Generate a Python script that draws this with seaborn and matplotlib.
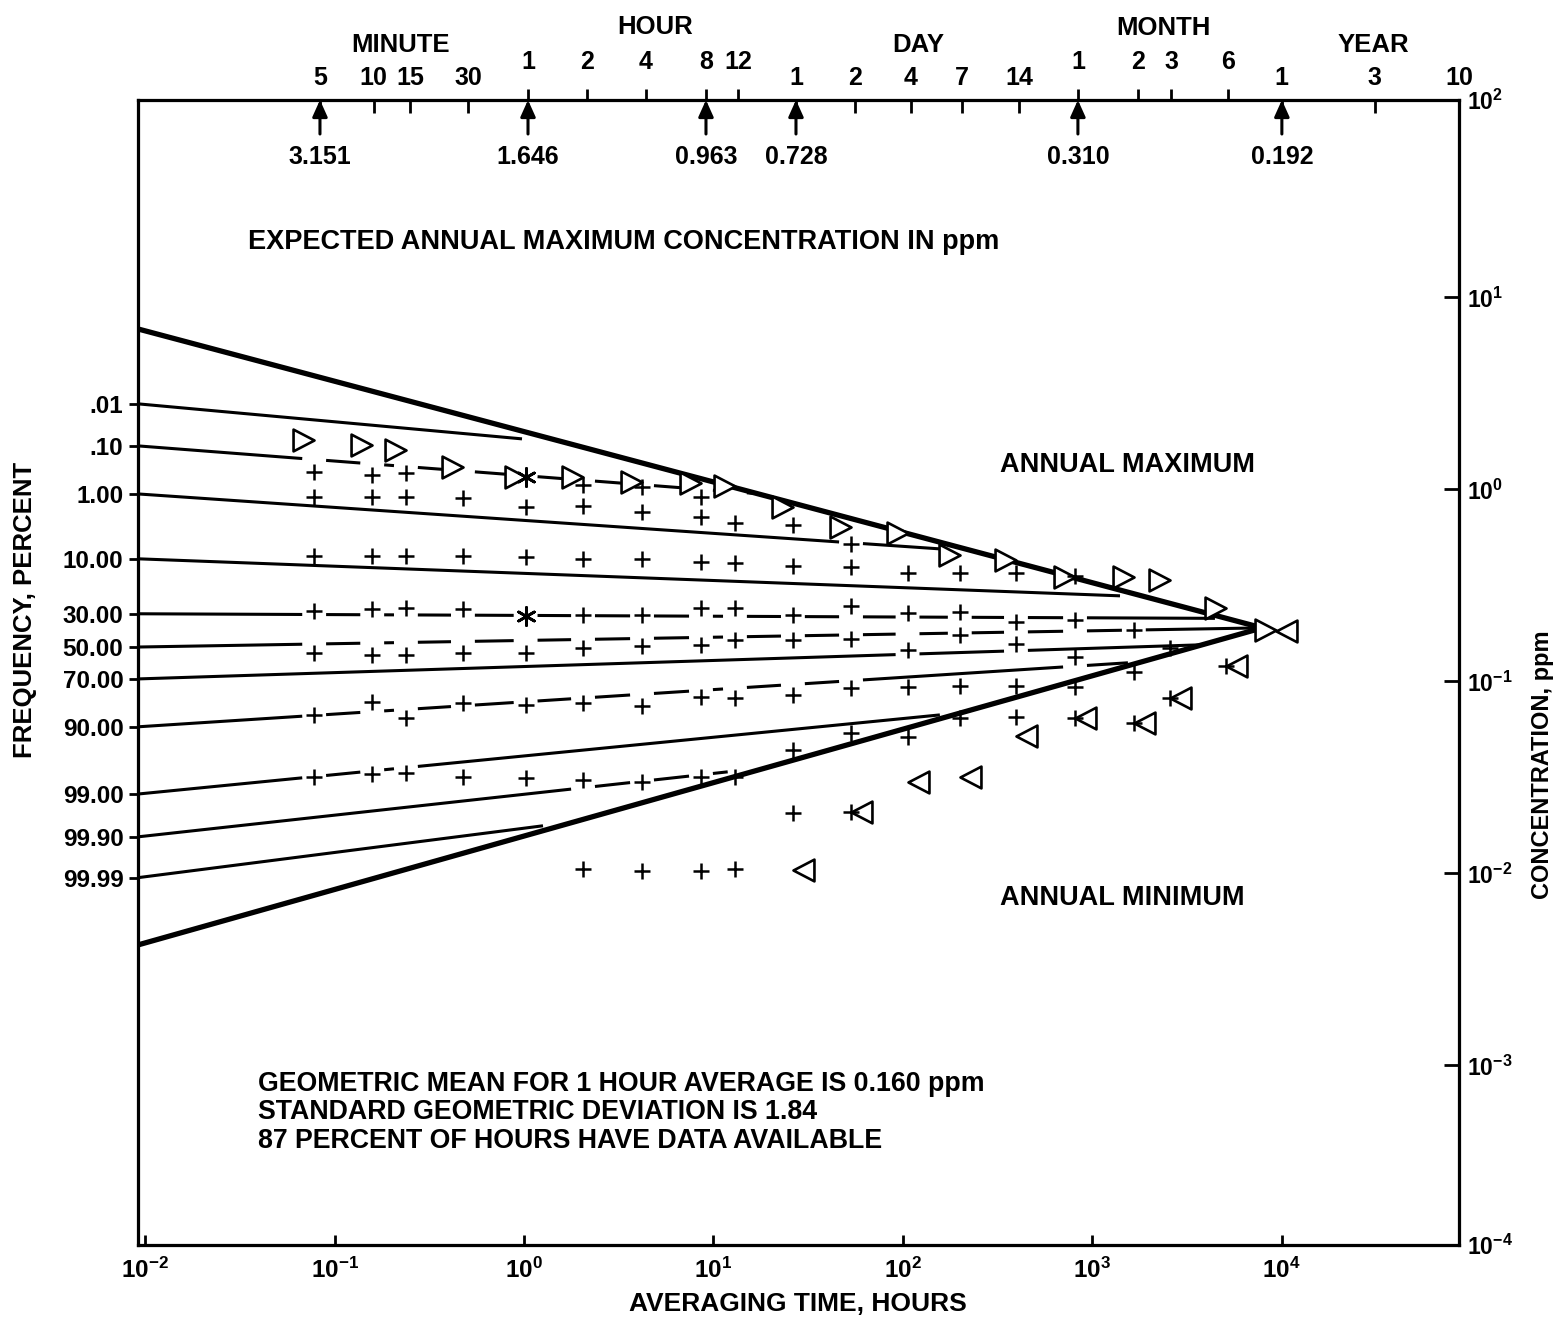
import numpy as np
import pandas as pd
import matplotlib
matplotlib.use("Agg")
import matplotlib.pyplot as plt
from matplotlib.path import Path
from matplotlib.ticker import FixedLocator, FixedFormatter, NullLocator
import seaborn as sns

nan = np.nan

# ---------------------------------------------------------------- data ----
# averaging-time columns (hours) of the observed points
AVG_HOURS = [0.078, 0.158, 0.238, 0.476, 1.02, 2.05, 4.2, 8.6, 13.0, 26.3,
             53.3, 106, 200, 396, 812, 1660, 2580, 5090, 9340]

# observed concentrations (ppm) per averaging time, one list per rank row
OBS_ROW_A = [1.238, 1.190, 1.223, nan, nan, 1.055, 1.027, 0.917] + [nan] * 11
OBS_ROW_B = [0.911, 0.911, 0.911, 0.900, 0.814, 0.823, 0.766, 0.722, 0.667,
             0.653, 0.520] + [nan] * 8
OBS_ROW_C = [0.452, 0.452, 0.452, 0.452, 0.447, 0.435, 0.433, 0.418, 0.416,
             0.401, 0.396, 0.366, 0.366, 0.367, 0.352] + [nan] * 4
OBS_ROW_D = [0.233, 0.238, 0.242, 0.238, nan, 0.222, 0.222, 0.241, 0.241,
             0.222, 0.247, 0.227, 0.231, 0.204, 0.208, 0.185, nan, nan, nan]
OBS_ROW_E = [0.140, 0.137, 0.137, 0.141, 0.141, 0.149, 0.152, 0.155, 0.164,
             0.164, 0.166, 0.146, 0.175, 0.156, 0.134, nan, 0.149, nan, nan]
OBS_ROW_F = [0.0669, 0.0785, 0.0643, 0.0770, 0.0754, 0.0770, 0.0745, 0.0827,
             0.0823, 0.0851, 0.0922, 0.0933, 0.0947, 0.0942, 0.0940, 0.1125,
             nan, nan, nan]
OBS_ROW_G = [0.0319, 0.0329, 0.0332, 0.0319, 0.0313, 0.0307, 0.0301, 0.0319,
             0.0319, 0.0440, 0.0537, 0.0516, 0.0643, 0.0649, 0.0643, 0.0608,
             0.0818, 0.1204, nan]
OBS_ROW_H = [nan] * 5 + [0.0105, 0.0103, 0.0103, 0.0105, 0.0207, 0.0210] + [nan] * 8

# coincident points (printed as an asterisk)
COINCIDENT_HOURS = [1.02, 1.02]
COINCIDENT_PPM = [1.166, 0.218]

# observed annual maxima and minima per averaging time (ppm)
ANNUAL_MAX_PPM = [1.810, 1.705, 1.606, 1.310, 1.162, 1.162, 1.094, 1.081, 1.043,
                  0.811, 0.638, 0.594, 0.456, 0.429, 0.350, 0.350, 0.338, 0.241,
                  0.185]
ANNUAL_MIN_PPM = [nan] * 9 + [0.0104, 0.0209, 0.0300, 0.0318, 0.0520, 0.0645,
                              0.0608, 0.0820, 0.1204, 0.1832]

# frequency lines: value at the left edge and where each line stops
FREQ_LABELS = [".01", ".10", "1.00", "10.00", "30.00", "50.00", "70.00",
               "90.00", "99.00", "99.90", "99.99"]
FREQ_START_PPM = [2.79, 1.685, 0.947, 0.435, 0.225, 0.151, 0.103, 0.058,
                  0.0259, 0.0155, 0.0095]
FREQ_END_HOURS = [0.976, 17.0, 157, 1403, 4450, 7900, 3707, 1545, 157, 11.9, 1.26]
FREQ_END_PPM = [1.833, 0.951, 0.49, 0.279, 0.213, 0.19, 0.155, 0.125, 0.0669,
                0.0338, 0.0177]

# expected annual maximum / minimum envelopes, meeting at one year
ENVELOPE_START_PPM = [6.85, 0.00424]
CONVERGE_HOURS = 7900
CONVERGE_PPM = 0.19

# top time scale
TOP_TICK_HOURS = [0.0837, 0.161, 0.25, 0.506, 1.05, 2.15, 4.41, 9.14, 13.5,
                  27.3, 55.9, 110, 205, 411, 841, 1746, 2609, 5213, 10040,
                  31100, 86500]
TOP_TICK_LABELS = ["5", "10", "15", "30", "1", "2", "4", "8", "12", "1", "2",
                   "4", "7", "14", "1", "2", "3", "6", "1", "3", "10"]
TOP_TICK_GROUP = (["MINUTE"] * 4 + ["HOUR"] * 5 + ["DAY"] * 5 + ["MONTH"] * 4
                  + ["YEAR"] * 3)

# expected annual maximum concentration for selected averaging times
ARROW_HOURS = [0.0837, 1.05, 9.14, 27.3, 841, 10040]
EXPECTED_MAX_PPM = [3.151, 1.646, 0.963, 0.728, 0.310, 0.192]

X_RANGE = (0.00916, 86500)
Y_RANGE = (1.16e-4, 106.7)
BOTTOM_TICKS = [1e-2, 1e-1, 1e0, 1e1, 1e2, 1e3, 1e4]
RIGHT_TICKS = [Y_RANGE[0], 1e-3, 1e-2, 1e-1, 1e0, 1e1, Y_RANGE[1]]
RIGHT_LABELS = ["$10^{-4}$", "$10^{-3}$", "$10^{-2}$", "$10^{-1}$",
                "$10^{0}$", "$10^{1}$", "$10^{2}$"]

# line breaks around the averaging-time columns (index of line -> columns)
LINE_GAPS = {1: range(0, 9), 2: [10], 4: range(0, 15), 5: range(0, 16),
             6: [11, 13], 7: list(range(0, 11)) + [14], 8: [0, 1, 2],
             9: [5, 6, 7]}
GAP = 0.063  # half width of a break, in decades

# ---------------------------------------------------------------- style ---
sns.set_theme(style="ticks")
plt.rcParams.update({
    "font.family": ["Liberation Sans", "DejaVu Sans"],
    "font.weight": "bold",
    "axes.edgecolor": "black",
    "axes.linewidth": 2.2,
    "mathtext.fontset": "custom",
    "mathtext.rm": "Liberation Sans:bold",
    "mathtext.bf": "Liberation Sans:bold",
    "mathtext.it": "Liberation Sans:bold",
    "mathtext.default": "bf",
    "text.color": "black",
    "xtick.color": "black",
    "ytick.color": "black",
})

W, H = 1565, 1318
fig = plt.figure(figsize=(W / 100, H / 100), dpi=100)
L, R, T, B = 138, 1459, 100, 1245
ax = fig.add_axes([L / W, 1 - B / H, (R - L) / W, (B - T) / H])
ax.set_xscale("log")
ax.set_yscale("log")
ax.set_xlim(X_RANGE)
ax.set_ylim(Y_RANGE)


def px(x, y):
    return x / W, 1 - y / H


def straight_segments(t0, c0, t1, c1, gap_cols):
    """Pieces of a straight log-log line, broken at the given columns."""
    lt0, lt1 = np.log10(t0), np.log10(t1)
    lc0, lc1 = np.log10(c0), np.log10(c1)
    k = (lc1 - lc0) / (lt1 - lt0)
    cuts = sorted(np.log10(AVG_HOURS[i]) for i in gap_cols)
    cuts = [g for g in cuts if lt0 < g < lt1]
    edges = [lt0]
    for g in cuts:
        edges += [g - GAP, g + GAP]
    edges.append(lt1)
    out = []
    for a, b in zip(edges[0::2], edges[1::2]):
        if b > a:
            out.append([(10 ** a, 10 ** (lc0 + k * (a - lt0))),
                        (10 ** b, 10 ** (lc0 + k * (b - lt0)))])
    return out


rows = []
seg_id = 0
for i in range(len(FREQ_LABELS)):
    for seg in straight_segments(X_RANGE[0], FREQ_START_PPM[i], FREQ_END_HOURS[i],
                                 FREQ_END_PPM[i], LINE_GAPS.get(i, [])):
        for t, c in seg:
            rows.append(dict(hours=t, ppm=c, seg=seg_id, kind="thin"))
        seg_id += 1
for c0 in ENVELOPE_START_PPM:
    rows.append(dict(hours=X_RANGE[0], ppm=c0, seg=seg_id, kind="thick"))
    rows.append(dict(hours=CONVERGE_HOURS, ppm=CONVERGE_PPM, seg=seg_id, kind="thick"))
    seg_id += 1
lines = pd.DataFrame(rows)

for kind, lw in (("thin", 2.2), ("thick", 3.8)):
    sns.lineplot(data=lines[lines["kind"] == kind], x="hours", y="ppm",
                 units="seg", estimator=None, sort=False, color="black",
                 linewidth=lw, solid_capstyle="butt", legend=False, ax=ax)

# observed points
obs_rows = [OBS_ROW_A, OBS_ROW_B, OBS_ROW_C, OBS_ROW_D, OBS_ROW_E, OBS_ROW_F,
            OBS_ROW_G, OBS_ROW_H]
obs = pd.DataFrame({"hours": np.tile(AVG_HOURS, len(obs_rows)),
                    "ppm": np.concatenate(obs_rows)}).dropna()
sns.scatterplot(data=obs, x="hours", y="ppm", marker="+", s=12 ** 2,
                color="black", linewidth=1.8, zorder=5, legend=False, ax=ax)
sns.scatterplot(x=COINCIDENT_HOURS, y=COINCIDENT_PPM, marker=(6, 2, 0),
                s=13 ** 2, color="black", linewidth=2.0, zorder=5,
                legend=False, ax=ax)

# annual extremes: open triangles with the tip on the averaging time
tri_max = Path([(0, 0), (-1, 0.52), (-1, -0.52), (0, 0)], closed=True)
tri_min = Path([(0, 0), (1, 0.52), (1, -0.52), (0, 0)], closed=True)
ext = pd.DataFrame({"hours": AVG_HOURS, "max": ANNUAL_MAX_PPM,
                    "min": ANNUAL_MIN_PPM})
for col, mk in (("max", tri_max), ("min", tri_min)):
    d = ext[["hours", col]].dropna()
    sns.scatterplot(data=d, x="hours", y=col, marker=mk, s=910,
                    color="white", edgecolor="black", linewidth=1.9,
                    zorder=4, legend=False, ax=ax)

ax.set_xlabel("")
ax.set_ylabel("")

# left: frequency scale
ax.yaxis.set_major_locator(FixedLocator(FREQ_START_PPM))
ax.yaxis.set_major_formatter(FixedFormatter(FREQ_LABELS))
ax.yaxis.set_minor_locator(NullLocator())
ax.tick_params(axis="y", which="major", left=True, right=False,
               direction="out", length=6.5, width=2, pad=4, labelsize=17.5)

# bottom: averaging time in hours
ax.xaxis.set_major_locator(FixedLocator(BOTTOM_TICKS))
ax.xaxis.set_major_formatter(FixedFormatter(
    ["$10^{%d}$" % round(np.log10(v)) for v in BOTTOM_TICKS]))
ax.xaxis.set_minor_locator(NullLocator())
ax.tick_params(axis="x", which="major", bottom=True, top=False,
               direction="in", length=7, width=2, pad=9, labelsize=17.5)

# right: concentration
ax_r = ax.twinx()
ax_r.set_yscale("log")
ax_r.set_ylim(Y_RANGE)
ax_r.yaxis.set_major_locator(FixedLocator(RIGHT_TICKS))
ax_r.yaxis.set_major_formatter(FixedFormatter(RIGHT_LABELS))
ax_r.yaxis.set_minor_locator(NullLocator())
ax_r.tick_params(axis="y", which="major", right=True, left=False,
                 direction="in", length=10.5, width=2, pad=6, labelsize=16.5)

# top: calendar time scale, two tick rows
inner = [i for i, g in enumerate(TOP_TICK_GROUP) if g in ("MINUTE", "DAY", "YEAR")]
outer = [i for i, g in enumerate(TOP_TICK_GROUP) if g in ("HOUR", "MONTH")]
for idx, direction, length, pad in ((inner, "in", 9.5, 7), (outer, "out", 8, 11)):
    tx = ax.twiny()
    tx.set_xscale("log")
    tx.set_xlim(X_RANGE)
    tx.xaxis.set_major_locator(FixedLocator([TOP_TICK_HOURS[i] for i in idx]))
    tx.xaxis.set_major_formatter(FixedFormatter([TOP_TICK_LABELS[i] for i in idx]))
    tx.xaxis.set_minor_locator(NullLocator())
    tx.tick_params(axis="x", which="major", top=True, bottom=False,
                   direction=direction, length=length, width=2, pad=pad,
                   labelsize=18)

for name, (gx, gy) in zip(["MINUTE", "HOUR", "DAY", "MONTH", "YEAR"],
                          [(401, 45), (655, 27), (918, 45), (1163, 28), (1373, 45)]):
    fig.text(*px(gx, gy), name, ha="center", va="center", fontsize=18.5)

# arrows with the expected annual maximum concentration
for t, v in zip(ARROW_HOURS, EXPECTED_MAX_PPM):
    ax.annotate("", xy=(t, 1.0), xycoords=("data", "axes fraction"),
                xytext=(0, -34), textcoords="offset pixels",
                arrowprops=dict(arrowstyle="-|>,head_length=1.0,head_width=0.45",
                                mutation_scale=10, color="black", lw=2.2,
                                shrinkA=0, shrinkB=0),
                annotation_clip=False)
    ax.annotate(f"{v:.3f}", xy=(t, 1.0), xycoords=("data", "axes fraction"),
                xytext=(0, -57), textcoords="offset pixels", ha="center",
                va="center", fontsize=18, annotation_clip=False)

# captions
fig.text(*px(248, 242), "EXPECTED ANNUAL MAXIMUM CONCENTRATION IN ppm",
         ha="left", va="center", fontsize=19.5)
fig.text(*px(1000, 465), "ANNUAL MAXIMUM", ha="left", va="center", fontsize=19.5)
fig.text(*px(1000, 898), "ANNUAL MINIMUM", ha="left", va="center", fontsize=19.5)
for y, s in zip([1084, 1112, 1141],
                ["GEOMETRIC MEAN FOR 1 HOUR AVERAGE IS 0.160 ppm",
                 "STANDARD GEOMETRIC DEVIATION IS 1.84",
                 "87 PERCENT OF HOURS HAVE DATA AVAILABLE"]):
    fig.text(*px(258, y), s, ha="left", va="center", fontsize=19.3)

fig.text(*px(798, 1304), "AVERAGING TIME, HOURS", ha="center", va="center",
         fontsize=19)
fig.text(*px(25, 610), "FREQUENCY, PERCENT", ha="center", va="center",
         rotation=90, fontsize=18.5)
fig.text(*px(1543, 765), "CONCENTRATION, ppm", ha="center", va="center",
         rotation=90, fontsize=17)

fig.savefig("out.png", dpi=100)
